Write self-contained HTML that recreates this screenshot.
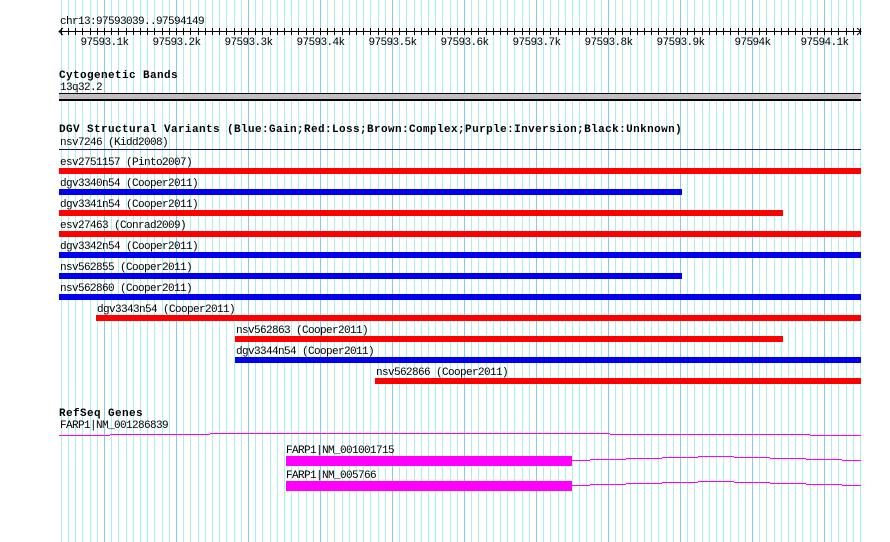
<!DOCTYPE html>
<html><head><meta charset="utf-8"><style>
html,body{margin:0;padding:0;background:#fff}
svg{display:block}
text{font-family:"Liberation Mono",monospace;font-size:11px;letter-spacing:-0.6px;fill:#000}
.b{font-weight:bold;font-size:11px;letter-spacing:0.4px}
</style></head><body>
<svg id="s" width="890" height="542" xmlns="http://www.w3.org/2000/svg">
<g id="grid"></g>
<g id="fg"></g>
</svg>
<script>
var ns="http://www.w3.org/2000/svg",g=document.getElementById('grid'),f=document.getElementById('fg');
function el(p,t,a,txt){var e=document.createElementNS(ns,t);for(var k in a)e.setAttribute(k,a[k]);if(txt)e.textContent=txt;p.appendChild(e);return e;}
function X(bp){return 104+(bp-97593100)*0.72;}
function R(x,y,w,h,c){el(f,'rect',{x:x,y:y,width:w,height:h,fill:c});}
for(var bp=97593040;bp<=97594150;bp+=10){var x=Math.round(X(bp));if(x<59||x>862)continue;
 var maj=(bp%100==0);el(g,'rect',{x:x,y:0,width:1,height:542,fill:maj?'#87c8f0':'#aeeef0'});
 R(x,28,1,7,'#000');
 if(maj){var lab=(bp/1000).toFixed(1).replace(/\.0$/,'')+'k';el(f,'text',{x:x+0.5,y:45,'text-anchor':'middle'},lab);}
}
el(f,'text',{x:60,y:24},'chr13:97593039..97594149');
R(59,31,802,1,'#000');
el(f,'polyline',{points:'63,28 59,31.5 63,35',fill:'none',stroke:'#000'});
el(f,'polyline',{points:'857,28 861,31.5 857,35',fill:'none',stroke:'#000'});
el(f,'text',{x:59,y:78,'class':'b'},'Cytogenetic Bands');
el(f,'text',{x:60,y:90},'13q32.2');
R(59,93,802,8,'#000');
R(59,94,802,5,'#c0c0c0');
el(f,'text',{x:59,y:132,'class':'b'},'DGV Structural Variants (Blue:Gain;Red:Loss;Brown:Complex;Purple:Inversion;Black:Unknown)');
el(f,'text',{x:60,y:145},'nsv7246 (Kidd2008)');
R(59,149,802,1,'#1a1060');
var rows=[['esv2751157 (Pinto2007)','r',59,861],['dgv3340n54 (Cooper2011)','b',59,682],['dgv3341n54 (Cooper2011)','r',59,783],
['esv27463 (Conrad2009)','r',59,861],['dgv3342n54 (Cooper2011)','b',59,861],['nsv562855 (Cooper2011)','b',59,682],
['nsv562860 (Cooper2011)','b',59,861],['dgv3343n54 (Cooper2011)','r',96,861],['nsv562863 (Cooper2011)','r',235,783],
['dgv3344n54 (Cooper2011)','b',235,861],['nsv562866 (Cooper2011)','r',375,861]];
rows.forEach(function(r,i){var y=160+21*i;el(f,'text',{x:r[2]+1,y:y+5},r[0]);
 R(r[2],y+8,r[3]-r[2],6,r[1]=='r'?'#ff0000':'#0000ee');});
el(f,'text',{x:59,y:416,'class':'b'},'RefSeq Genes');
el(f,'text',{x:60,y:428},'FARP1|NM_001286839');
var M='#ff00ff';
[[59,110,435],[110,210,434],[210,610,433],[610,810,434],[810,861,435]].forEach(function(s){R(s[0],s[2],s[1]-s[0],1,M);});
[450,475].forEach(function(y){
 el(f,'text',{x:286,y:y+3},y==450?'FARP1|NM_001001715':'FARP1|NM_005766');
 R(286,y+6,286,10,M);
 var o=y-450;
 [[572,590,460],[590,626,459],[626,662,458],[662,698,457],[698,734,456],[734,770,457],[770,806,458],[806,842,459],[842,861,460]].forEach(function(s){R(s[0],s[2]+o,s[1]-s[0],1,M);});
});
</script>
</body></html>
